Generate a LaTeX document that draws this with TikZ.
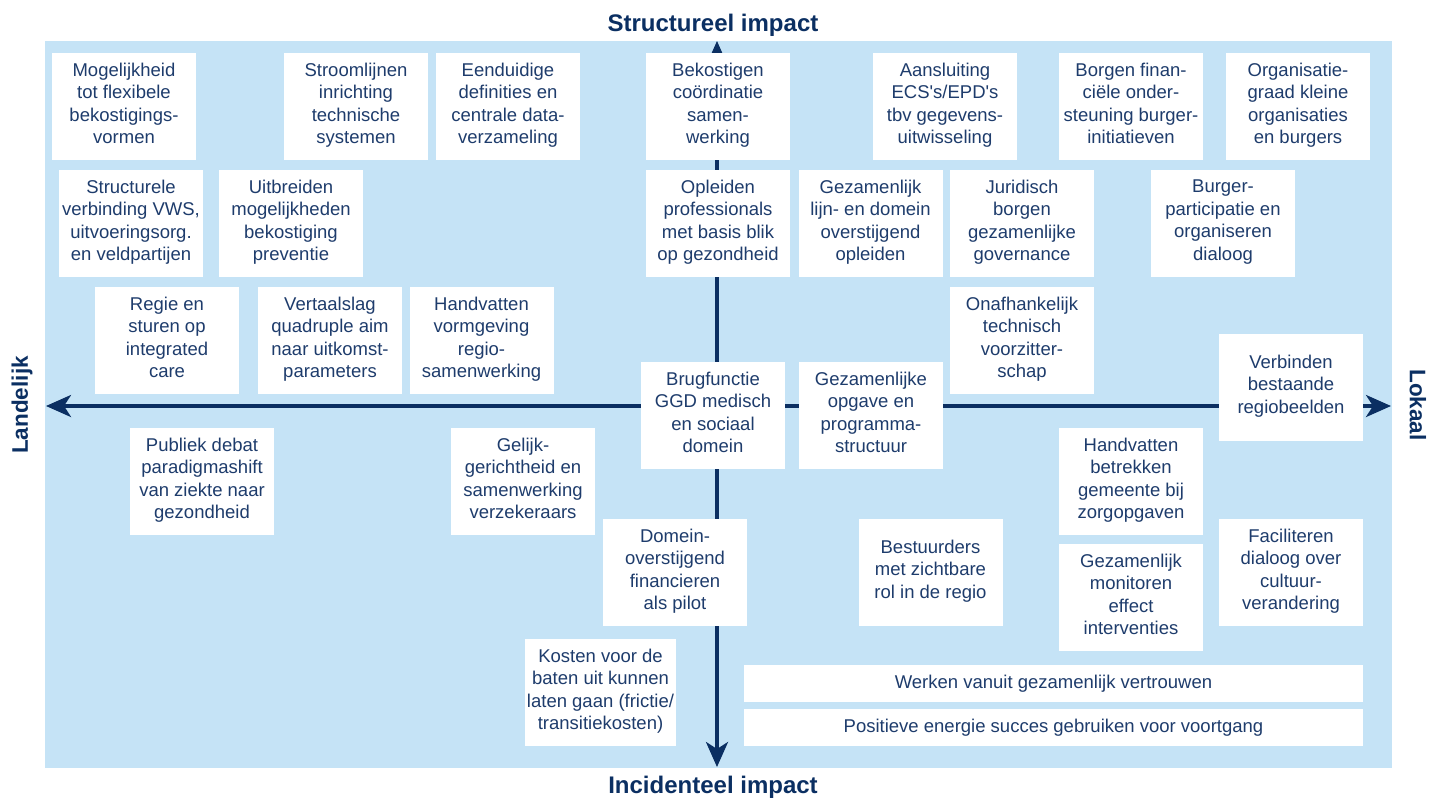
\documentclass[tikz,border=0pt]{standalone}
\usepackage{fontspec}
\setmainfont{Liberation Sans}
\usetikzlibrary{arrows.meta}

\definecolor{lichtblauw}{HTML}{C5E3F6}
\definecolor{donkerblauw}{HTML}{0B2F62}
\definecolor{tekstblauw}{HTML}{1E3C6C}

\begin{document}
\begin{tikzpicture}[x=1pt,y=-1pt,
  blok/.style={fill=white,text=tekstblauw,align=center,inner sep=0pt,
    minimum width=144pt,minimum height=107pt,
    font=\fontsize{18.5}{22.5}\selectfont,
    execute at begin node=\strut,execute at end node={\rule[-4pt]{0pt}{4pt}}},
  breed/.style={blok,minimum width=619pt,minimum height=37pt},
  pijl/.style={draw=donkerblauw,line width=3.5pt,
    {Stealth[length=25pt,width=22pt,inset=7pt]}-{Stealth[length=25pt,width=22pt,inset=7pt]}},
  kop/.style={text=donkerblauw,inner sep=0pt,font=\bfseries\fontsize{24}{28}\selectfont},
  zij/.style={text=donkerblauw,inner sep=0pt,font=\bfseries\fontsize{22.5}{26}\selectfont}]
\useasboundingbox (0,0) rectangle (1440,798);
\fill[lichtblauw] (45,41) rectangle (1392,768);

% assen
\coordinate (boven) at (717,41);
\coordinate (onder) at (717,767);
\coordinate (links) at (46,406);
\coordinate (rechts) at (1391,406);
\draw[pijl] (onder) -- (boven);
\draw[pijl] (links) -- (rechts);

\node[kop,anchor=base] (structureel) at (713,31) {Structureel impact};
\node[kop,anchor=base] (incidenteel) at (713,793) {Incidenteel impact};
\node[zij,rotate=90] (landelijk) at (22,405) {Landelijk};
\node[zij,rotate=-90] (lokaal) at (1418,405) {Lokaal};

% rij 1
\node[blok] (mogelijk) at (124,106.5) {Mogelijkheid\\tot flexibele\\bekostigings-\\vormen};
\node[blok] (stroom) at (356,106.5) {Stroomlijnen\\inrichting\\technische\\systemen};
\node[blok] (eenduidig) at (508,106.5) {Eenduidige\\definities en\\centrale data-\\verzameling};
\node[blok] (bekostigen) at (718,106.5) {Bekostigen\\coördinatie\\samen-\\werking};
\node[blok] (aansluiting) at (945,106.5) {Aansluiting\\ECS\textquotesingle s/EPD\textquotesingle s\\tbv gegevens-\\uitwisseling};
\node[blok] (borgen) at (1131,106.5) {Borgen finan-\\ciële onder-\\steuning burger-\\initiatieven};
\node[blok] (organisatie) at (1298,106.5) {Organisatie-\\graad kleine\\organisaties\\en burgers};

% rij 2
\node[blok] (verbinding) at (131,223.5) {Structurele\\verbinding VWS,\\uitvoeringsorg.\\en veldpartijen};
\node[blok] (uitbreiden) at (291,223.5) {Uitbreiden\\mogelijkheden\\bekostiging\\preventie};
\node[blok] (opleiden) at (718,223.5) {Opleiden\\professionals\\met basis blik\\op gezondheid};
\node[blok] (lijn) at (870.5,223.5) {Gezamenlijk\\lijn- en domein\\overstijgend\\opleiden};
\node[blok] (juridisch) at (1022,223.5) {Juridisch\\borgen\\gezamenlijke\\governance};
\node[blok] (burger) at (1223,223.5) {Burger-\\participatie en\\organiseren\\dialoog};

% rij 3
\node[blok] (regie) at (167,340.5) {Regie en\\sturen op\\integrated\\care};
\node[blok] (vertaalslag) at (330,340.5) {Vertaalslag\\quadruple aim\\naar uitkomst-\\parameters};
\node[blok] (vormgeving) at (481.5,340.5) {Handvatten\\vormgeving\\regio-\\samenwerking};
\node[blok] (voorzitter) at (1022,340.5) {Onafhankelijk\\technisch\\voorzitter-\\schap};
\node[blok] (brug) at (713,415.5) {Brugfunctie\\GGD medisch\\en sociaal\\domein};
\node[blok] (opgave) at (871,415.5) {Gezamenlijke\\opgave en\\programma-\\structuur};
\node[blok] (regiobeelden) at (1291,387.5) {Verbinden\\bestaande\\regiobeelden};

% rij 4
\node[blok] (publiek) at (202,481.5) {Publiek debat\\paradigmashift\\van ziekte naar\\gezondheid};
\node[blok] (gelijk) at (523,481.5) {Gelijk-\\gerichtheid en\\samenwerking\\verzekeraars};
\node[blok] (gemeente) at (1131,481.5) {Handvatten\\betrekken\\gemeente bij\\zorgopgaven};
\node[blok] (domein) at (675,572.5) {Domein-\\overstijgend\\financieren\\als pilot};
\node[blok] (bestuurders) at (930.5,572.5) {Bestuurders\\met zichtbare\\rol in de regio};
\node[blok] (faciliteren) at (1291,572.5) {Faciliteren\\dialoog over\\cultuur-\\verandering};
\node[blok] (monitoren) at (1131,597.5) {Gezamenlijk\\monitoren\\effect\\interventies};
\node[blok,minimum width=151pt] (kosten) at (600.5,692.5) {Kosten voor de\\baten uit kunnen\\laten gaan (frictie/\\transitiekosten)};

% brede balken
\node[breed] (vertrouwen) at (1053.5,683.5) {Werken vanuit gezamenlijk vertrouwen};
\node[breed] (positief) at (1053.5,727.5) {Positieve energie succes gebruiken voor voortgang};
\end{tikzpicture}
\end{document}
